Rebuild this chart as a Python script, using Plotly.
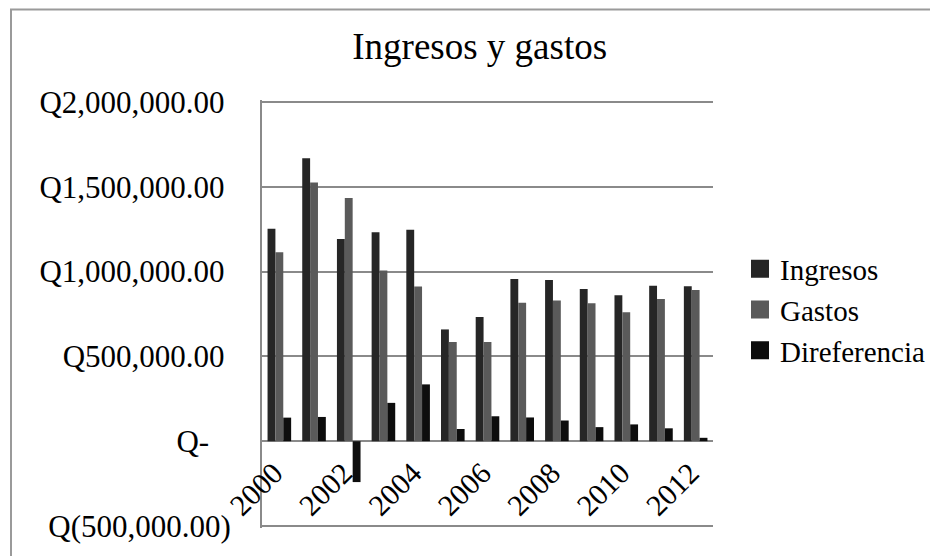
import plotly.graph_objects as go

years = ["2000", "2001", "2002", "2003", "2004", "2005", "2006",
         "2007", "2008", "2009", "2010", "2011", "2012"]
ingresos = [1253000, 1669000, 1192000, 1232000, 1247000, 659000, 732000,
            957000, 951000, 898000, 861000, 916000, 914000]
gastos = [1114000, 1526000, 1434000, 1006000, 912000, 585000, 585000,
          816000, 829000, 814000, 761000, 839000, 892000]
diferencia = [139000, 143000, -241000, 226000, 335000, 72000, 147000,
              140000, 122000, 83000, 99000, 76000, 20000]

series_names = ["Ingresos", "Gastos", "Direferencia"]
series_colors = ["#262626", "#5a5a5a", "#0d0d0d"]

x_tick_years = ["2000", "2002", "2004", "2006", "2008", "2010", "2012"]
y_tick_vals = [-500000, 0, 500000, 1000000, 1500000, 2000000]
THIN = "\u2009"
FIG = "\u2007"
QUARTER = "\u2005"
y_tick_text = ["Q(500,000.00)", "Q-" + FIG + THIN, "Q500,000.00" + THIN,
               "Q1,000,000.00" + THIN, "Q1,500,000.00" + THIN, "Q2,000,000.00" + THIN]
x_tick_text = [y + QUARTER for y in x_tick_years]

FONT = "Liberation Serif, Times New Roman, serif"

# page body has an 8px default margin; compensate so the figure fills the window
OFF = 8
W, H = 938 - OFF, 556 - OFF

# plot area in window pixels (reference): x 262..713, y 100..530 (2 px padding beyond grid ends)
px0, px1 = 262, 713
py0, py1 = 100, 530
L = px0 - OFF
R = W - (px1 - OFF)
T = py0 - OFF
B = H - (py1 - OFF)
pw, ph = W - L - R, H - T - B

per_px = 500000 / 85.0
y_lo = -500000 - 2 * per_px
y_hi = 2000000 + 2 * per_px

fig = go.Figure()
for name, vals, col in zip(series_names, [ingresos, gastos, diferencia], series_colors):
    fig.add_trace(go.Bar(x=years, y=vals, name=name, marker=dict(color=col, line=dict(width=0)),
                         showlegend=False))
for name, col in zip(series_names, series_colors):
    fig.add_trace(go.Scatter(x=[None], y=[None], mode="markers", name=name,
                             marker=dict(symbol="square", size=16, color=col,
                                         line=dict(color=col, width=2)),
                             showlegend=True))

zero_pos = (0 - y_lo) / (y_hi - y_lo)

def wx(px):
    return (px - OFF) / W

def wy(py):
    return 1 - (py - OFF) / H

fig.update_layout(
    width=W, height=H,
    margin=dict(l=L, r=R, t=T, b=B, pad=0),
    paper_bgcolor="white", plot_bgcolor="white",
    barmode="group", bargap=0.32, bargroupgap=0,
    font=dict(family=FONT, color="black"),
    title=dict(text="Ingresos y gastos", font=dict(size=37, family=FONT, color="black"),
               x=wx(479.7), xref="container", xanchor="center",
               y=wy(46.4), yref="container", yanchor="middle"),
    xaxis=dict(type="category", categoryorder="array", categoryarray=years,
               tickmode="array", tickvals=x_tick_years, ticktext=x_tick_text,
               tickangle=-45, tickfont=dict(size=30, family=FONT, color="black"),
               showgrid=False, showline=False, zeroline=False, ticks="",
               ticklabelstandoff=2,
               anchor="free", position=zero_pos),
    yaxis=dict(range=[y_lo, y_hi], tickmode="array", tickvals=y_tick_vals,
               ticktext=y_tick_text, tickfont=dict(size=31, family=FONT, color="black"),
               showgrid=True, gridcolor="#8a8a8a", gridwidth=2,
               zeroline=True, zerolinecolor="#8a8a8a", zerolinewidth=2,
               showline=True, linecolor="#8a8a8a", linewidth=2, ticks="",
               ticklabelstandoff=23),
    legend=dict(x=wx(740), xref="container", xanchor="left",
                y=wy(310), yref="container", yanchor="middle",
                font=dict(size=29, family=FONT, color="black"),
                bgcolor="rgba(0,0,0,0)", borderwidth=0, itemwidth=30,
                tracegroupgap=0),
    shapes=[dict(type="rect", xref="paper", yref="paper",
                 x0=(11 - px0) / pw, x1=(960 - px0) / pw,
                 y0=(py1 - 570) / ph, y1=(py1 - (OFF + 1)) / ph,
                 line=dict(color="#9a9a9a", width=2), fillcolor="rgba(0,0,0,0)",
                 layer="below")],
)

fig.write_html("out.html")
